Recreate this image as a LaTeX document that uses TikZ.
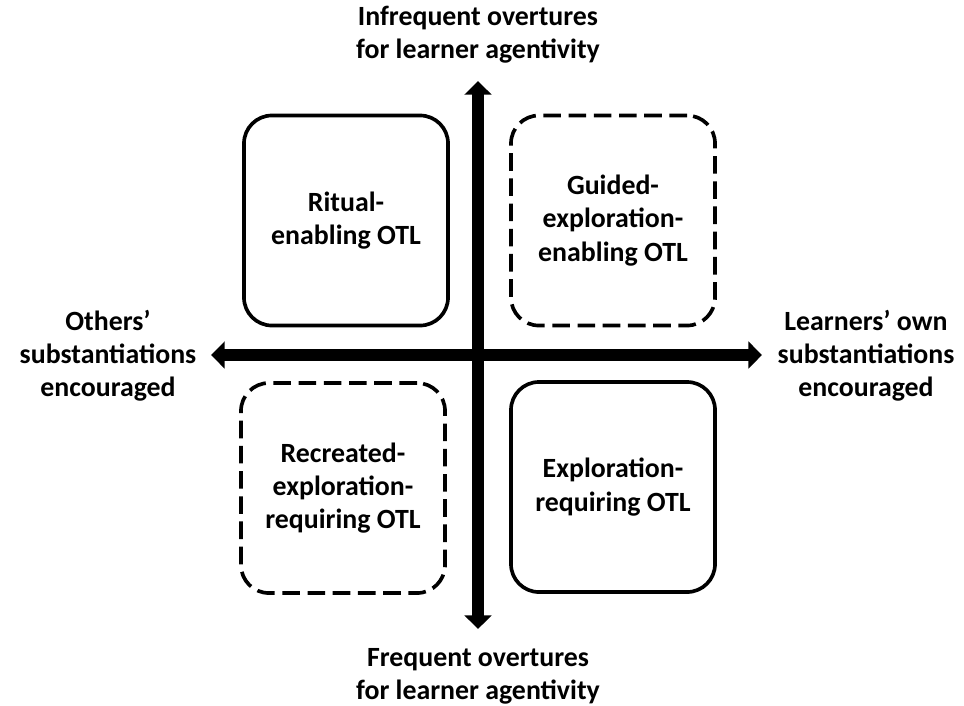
\documentclass[tikz,border=0pt]{standalone}
\usepackage{fontspec}
\setmainfont{Carlito}
\usepackage{tikz}
\usetikzlibrary{arrows.meta,positioning}

\begin{document}
\begin{tikzpicture}[x=0.025cm, y=-0.025cm,
  font=\bfseries\fontsize{19.8}{23.6}\selectfont,
  quad/.style={rounded corners=0.7cm, draw=black, line width=2.6pt, minimum width=5.1cm, minimum height=5.25cm, align=center, inner sep=0pt},
  loose/.style={quad, dash pattern=on 0.44cm off 0.19cm},
  axis/.style={line width=9pt, {Triangle[width=0.66cm,length=0.34cm]}-{Triangle[width=0.66cm,length=0.34cm]}},
  pole/.style={align=center, inner sep=0pt}]

\useasboundingbox (0,0) rectangle (964,705);

% axis end points
\coordinate (top) at (478,81);
\coordinate (bottom) at (478,629);
\coordinate (left) at (211,355);
\coordinate (right) at (762,355);

\draw[axis] (top) -- (bottom);
\draw[axis] (left) -- (right);

% quadrants
\node[quad] (ritual) at (346,220.5) {Ritual-\\enabling OTL};
\node[loose] (guided) at (613,220.5) {Guided-\\exploration-\\enabling OTL};
\node[loose] (recreated) at (343,488) {Recreated-\\exploration-\\requiring OTL};
\node[quad] (explore) at (613,487) {Exploration-\\requiring OTL};

% axis labels
\node[pole] (infreq) at (478,35) {Infrequent overtures\\for learner agentivity};
\node[pole] (freq) at (478,676) {Frequent overtures\\for learner agentivity};
\node[pole] (others) at (108,356) {Others’\\substantiations\\encouraged};
\node[pole] (own) at (866,356) {Learners’ own\\substantiations\\encouraged};
\end{tikzpicture}
\end{document}
